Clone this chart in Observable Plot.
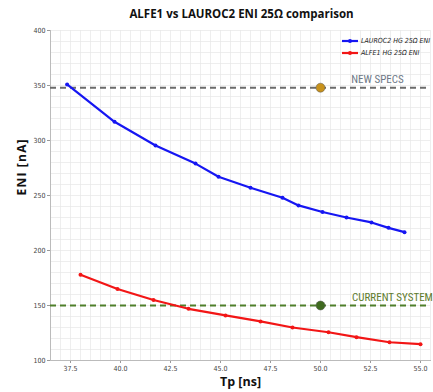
<!DOCTYPE html>
<html>
<head>
<meta charset="utf-8">
<script src="https://cdn.jsdelivr.net/npm/d3@7"></script>
<script src="https://cdn.jsdelivr.net/npm/@observablehq/plot@0.6"></script>
<style>
  html, body { margin: 0; padding: 0; background: #fff; }
  #wrap { position: relative; width: 433px; height: 392px; overflow: hidden; }
  #title { position: absolute; left: 0; width: 433px; top: 6px; text-align: center; padding-left: 50px; box-sizing: border-box;
           font: bold 11.5px "Open Sans", sans-serif; color: #111; }
  #legend { position: absolute; left: 342px; top: 35px; font: italic 7px "DejaVu Sans Condensed", "DejaVu Sans", sans-serif; color: #222; white-space: nowrap; }
  #legend .row { display: flex; align-items: center; height: 12px; white-space: nowrap; }
  #legend svg { margin-right: 3px; flex: none; }
  .ylab { letter-spacing: 1.2px; }
</style>
</head>
<body>
<div id="wrap">
  <div id="chart"></div>
  <div id="title"></div>
  <div id="legend"></div>
</div>
<script>
// ---- data ----
const titleText = "ALFE1 vs LAUROC2 ENI 25Ω comparison";
const xLabel = "Tp [ns]";
const yLabel = "ENI [nA]";

const laurocTp  = [37.33, 39.7, 41.75, 43.75, 44.9, 46.5, 48.1, 48.9, 50.1, 51.3, 52.55, 53.4, 54.2];
const laurocEni = [351, 317, 295.5, 279, 267, 257, 248, 241, 235, 230, 225.5, 220.6, 216.7];

const alfeTp  = [38.0, 39.85, 41.65, 43.4, 45.25, 47.0, 48.6, 50.4, 51.8, 53.45, 55.0];
const alfeEni = [178, 165, 155, 147, 141, 135.5, 130, 125.7, 121.2, 116.6, 114.8];

const seriesNames  = ["LAUROC2 HG 25Ω ENI", "ALFE1 HG 25Ω ENI"];
const seriesColors = ["#1616f2", "#f21616"];

const refNames  = ["NEW SPECS", "CURRENT SYSTEM"];
const refValues = [348, 150];
const refMarkTp = [50, 50];
const refLabelTp = [52.85, 53.6];
const refLineColors = ["#6b6b6b", "#4f7f2a"];
const refTextColors = ["#6d7886", "#5e7b2c"];
const refDotColors  = ["#c8921c", "#3f6a1f"];

const xTicks = [37.5, 40.0, 42.5, 45.0, 47.5, 50.0, 52.5, 55.0];
const yTicks = [100, 150, 200, 250, 300, 350, 400];

// ---- build tables ----
const lauroc = laurocTp.map((t, i) => ({tp: t, eni: laurocEni[i], s: seriesNames[0]}));
const alfe = alfeTp.map((t, i) => ({tp: t, eni: alfeEni[i], s: seriesNames[1]}));
const refs = refNames.map((n, i) => ({name: n, v: refValues[i], tp: refMarkTp[i], lt: refLabelTp[i],
  lc: refLineColors[i], tc: refTextColors[i], dc: refDotColors[i]}));

const minorX = d3.range(36.5, 55.51, 0.5);
const minorY = d3.range(100, 400.1, 10);

const tickFont = '"DejaVu Sans Condensed", "DejaVu Sans", sans-serif';
const annFont = '"Liberation Sans Narrow", "Roboto Condensed", "Liberation Sans", sans-serif';

const plot = Plot.plot({
  width: 433,
  height: 392,
  marginTop: 30,
  marginBottom: 32,
  marginLeft: 50,
  marginRight: 3,
  style: {fontFamily: tickFont, fontSize: "7px", color: "#444", background: "#fff"},
  x: {domain: [36.5, 55.5], label: null},
  y: {domain: [100, 400], label: null},
  marks: [
    Plot.gridX(minorX, {stroke: "#e6e6e6", strokeOpacity: 1, strokeWidth: 0.7}),
    Plot.gridY(minorY, {stroke: "#e6e6e6", strokeOpacity: 1, strokeWidth: 0.7}),
    Plot.axisX({ticks: xTicks, tickFormat: d => d.toFixed(1), tickSize: 3, tickPadding: 3, stroke: "#999", fill: "#444", label: null}),
    Plot.axisY({ticks: yTicks, tickSize: 3, tickPadding: 2, stroke: "#999", fill: "#444", label: null}),
    Plot.frame({anchor: "left", stroke: "#bbb"}),
    Plot.frame({anchor: "bottom", stroke: "#bbb"}),
    Plot.ruleY(refs, {y: "v", stroke: "lc", strokeWidth: 2, strokeDasharray: "6,4"}),
    Plot.line(lauroc, {x: "tp", y: "eni", stroke: seriesColors[0], strokeWidth: 2.2}),
    Plot.dot(lauroc, {x: "tp", y: "eni", fill: seriesColors[0], r: 2}),
    Plot.line(alfe, {x: "tp", y: "eni", stroke: seriesColors[1], strokeWidth: 2.2}),
    Plot.dot(alfe, {x: "tp", y: "eni", fill: seriesColors[1], r: 2}),
    Plot.dot(refs, {x: "tp", y: "v", fill: "dc", stroke: "#555", strokeWidth: 0.5, r: 4.5}),
    Plot.text(refs, {x: "lt", y: "v", text: "name", fill: "tc", dy: -8, fontSize: 11, fontFamily: annFont}),
    Plot.text([xLabel], {frameAnchor: "bottom", dy: 25, fontSize: 12.5, fontWeight: "bold", fill: "#111", fontFamily: '"Open Sans", sans-serif'}),
    Plot.text([yLabel], {frameAnchor: "left", dx: -28, rotate: -90, fontSize: 12, fontWeight: "bold", fill: "#111", fontFamily: '"Open Sans", sans-serif', className: "ylab"})
  ]
});
document.getElementById("chart").appendChild(plot);
document.getElementById("title").textContent = titleText;

const legend = document.getElementById("legend");
seriesNames.forEach((n, i) => {
  const row = document.createElement("div");
  row.className = "row";
  row.innerHTML = `<svg width="16" height="6"><line x1="0" x2="16" y1="3" y2="3" stroke="${seriesColors[i]}" stroke-width="2.2"/><circle cx="8" cy="3" r="2" fill="${seriesColors[i]}"/></svg><span>${n}</span>`;
  legend.appendChild(row);
});
</script>
</body>
</html>
